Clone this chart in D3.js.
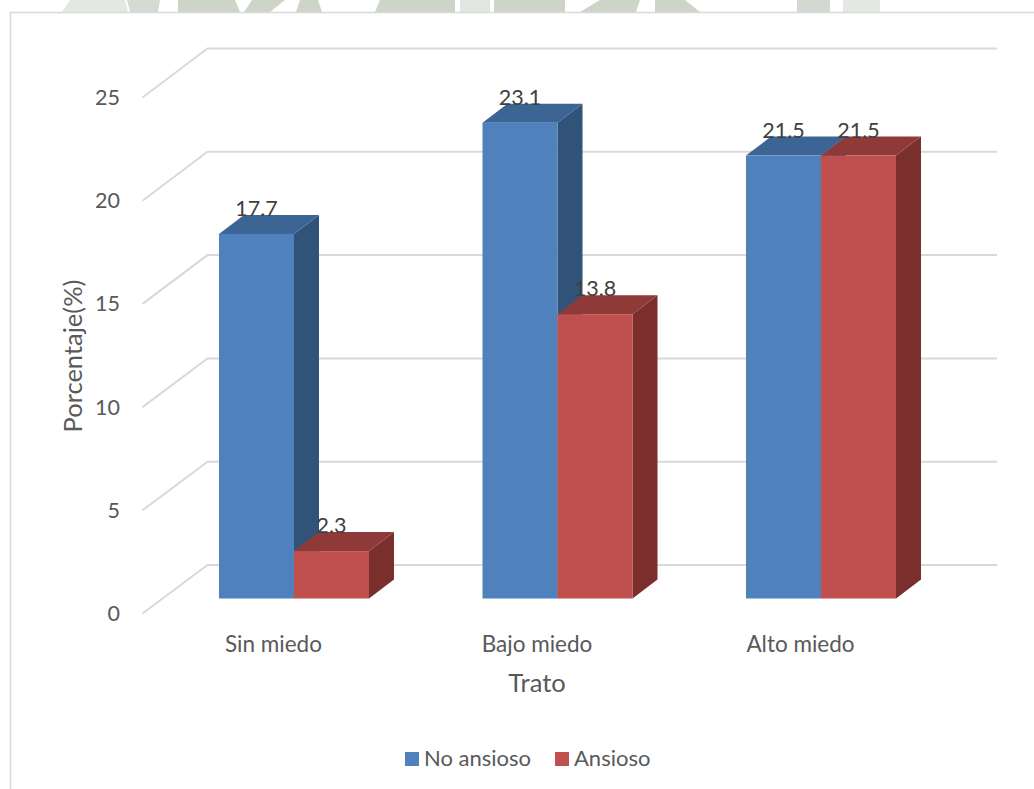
<!DOCTYPE html>
<html><head><meta charset="utf-8">
<script src="https://cdn.jsdelivr.net/npm/d3@7"></script>
<style>html,body{margin:0;padding:0;background:#fff}svg{display:block}text{font-family:Lato,"Open Sans",sans-serif}</style>
</head><body><div id="c"></div>
<script>
const categories = ["Sin miedo","Bajo miedo","Alto miedo"];
const noAnsioso = [17.7,23.1,21.5];
const ansioso = [2.3,13.8,21.5];
const seriesNames = ["No ansioso","Ansioso"];
const ticks = [0,5,10,15,20,25];
const W=1034,H=789;
const svg=d3.select("#c").append("svg").attr("width",W).attr("height",H);
const dx=25,dy=19;
const y=d3.scaleLinear().domain([0,25]).range([598.5,83.5]);
const yFront=d3.scaleLinear().domain([0,25]).range([613.5,97.5]);
const yBack=d3.scaleLinear().domain([0,25]).range([565,48.5]);
const x=d3.scaleBand().domain(categories).range([142.5,933]).paddingInner(0).paddingOuter(0);
const sx=d3.scaleBand().domain(seriesNames).range([0,150]);
const off=76.5;
// faint watermark remnant above the frame
const wm=svg.append("g");
[[70,125,"#e4e8e2",62,128],[127,160,"#d5dbd2",130,158],[178,235,"#cdd5c9",178,240],[252,285,"#cdd5c9",244,270],[300,318,"#cdd5c9",296,322],[380,455,"#cdd5c9",375,455],[460,490,"#e2e6e0",460,490],[494,565,"#cdd5c9",494,565],[600,640,"#cdd5c9",580,636],[655,685,"#cdd5c9",655,700],[797,830,"#d3d9d0",797,830],[843,880,"#e4e8e2",843,880]]
 .forEach(([a,b,col,c,e])=>wm.append("path").attr("d",`M${a},0H${b}L${e},12H${c}Z`).attr("fill",col));
// frame
svg.append("path").attr("d",`M${W},12.5H10.5V${H}`).attr("fill","none").attr("stroke","#d9d9d9").attr("stroke-width",1.6);
// gridlines
const g=svg.append("g");
ticks.forEach(t=>{
  g.append("path").attr("d",`M142.5,${yFront(t)}L207.5,${yBack(t)}H997`).attr("fill","none").attr("stroke","#d9d9d9").attr("stroke-width",2);
  svg.append("text").attr("x",120).attr("y",yFront(t)+2).attr("text-anchor","end").attr("dominant-baseline","middle")
    .attr("font-size",21.5).attr("fill","#595959").text(t);
});
const palette={ "No ansioso":["#4f81bd","#3c6494","#325379"], "Ansioso":["#c0504d","#8f3a38","#7a2f2d"] };
const data=[noAnsioso,ansioso];
const bars=svg.append("g");
categories.forEach((c,i)=>{
  seriesNames.forEach((s,j)=>{
    const v=data[j][i];
    const x0=x(c)+off+sx(s), w=sx.bandwidth(), y0=y(v), yb=y(0);
    const [f,t,r]=palette[s];
    bars.append("path").attr("d",`M${x0+w},${y0}l${dx},${-dy}V${yb-dy}l${-dx},${dy}Z`).attr("fill",r);
    bars.append("path").attr("d",`M${x0},${y0}l${dx},${-dy}h${w}l${-dx},${dy}Z`).attr("fill",t);
    bars.append("rect").attr("x",x0).attr("y",y0).attr("width",w).attr("height",yb-y0).attr("fill",f);
  });
});
const labels=svg.append("g");
categories.forEach((c,i)=>{
  seriesNames.forEach((s,j)=>{
    const v=data[j][i];
    labels.append("text").attr("x",x(c)+off+sx(s)+37.5).attr("y",y(v)-18).attr("text-anchor","middle")
      .attr("font-size",21.5).attr("fill","#404040").text(v.toFixed(1));
  });
  svg.append("text").attr("x",x(c)+off+54.5).attr("y",652).attr("text-anchor","middle").attr("font-size",22.5).attr("fill","#595959").text(c);
});
svg.append("text").attr("transform","translate(82,356) rotate(-90)").attr("text-anchor","middle").attr("font-size",25.5).attr("fill","#595959").text("Porcentaje(%)");
svg.append("text").attr("x",537).attr("y",692).attr("text-anchor","middle").attr("font-size",25.5).attr("fill","#595959").text("Trato");
const lx=[405,555];
seriesNames.forEach((s,j)=>{
  svg.append("rect").attr("x",lx[j]).attr("y",752).attr("width",14).attr("height",14).attr("fill",palette[s][0]);
  svg.append("text").attr("x",lx[j]+19).attr("y",766).attr("font-size",22).attr("fill","#595959").text(s);
});
</script></body></html>
